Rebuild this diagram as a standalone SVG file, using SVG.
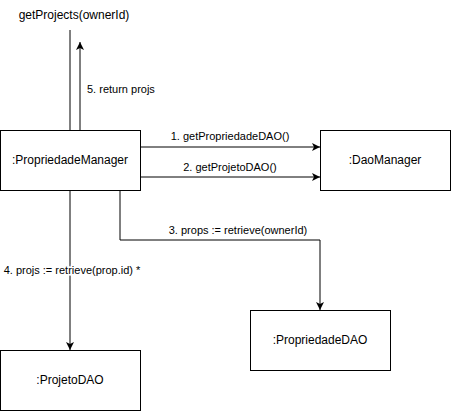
<svg xmlns="http://www.w3.org/2000/svg" width="461" height="411" viewBox="0 0 461 411">
<style>
.box{fill:#fff;stroke:#000;stroke-width:1}
.t{font-family:"Liberation Sans",Arial,sans-serif;font-size:12px;fill:#000;text-anchor:middle}
.l{font-family:"Liberation Sans",Arial,sans-serif;font-size:11px;fill:#000}
.c{fill:none;stroke:#000;stroke-width:1}
</style>
<defs>
<marker id="a" markerWidth="10" markerHeight="10" refX="8" refY="4" orient="auto" markerUnits="userSpaceOnUse">
<path d="M0,0 L8,4 L0,8 L2,4 Z" fill="#000"/>
</marker>
</defs>
<rect width="461" height="411" fill="#fff"/>
<text x="74" y="19" class="t">getProjects(ownerId)</text>
<g id="connectors">
<path class="c" d="M70,30 V130"/>
<path class="c" d="M80,130 V42" marker-end="url(#a)"/>
<path class="c" d="M140,147 H320" marker-end="url(#a)"/>
<path class="c" d="M140,177 H320" marker-end="url(#a)"/>
<path class="c" d="M120,190 V240 H320 V310" marker-end="url(#a)"/>
<path class="c" d="M70,190 V350" marker-end="url(#a)"/>
<text x="87" y="93" class="l">5. return projs</text>
<text x="230" y="140" class="l" text-anchor="middle">1. getPropriedadeDAO()</text>
<text x="230" y="171" class="l" text-anchor="middle">2. getProjetoDAO()</text>
<text x="238" y="234" class="l" text-anchor="middle">3. props := retrieve(ownerId)</text>
<text x="72" y="274" class="l" text-anchor="middle" style="paint-order:stroke" stroke="#fff" stroke-width="3">4. projs := retrieve(prop.id) *</text>
</g>
<g id="propriedadeManager">
<rect class="box" x="0.5" y="130.5" width="140" height="60"/>
<text x="70" y="164" class="t">:PropriedadeManager</text>
</g>
<g id="daoManager">
<rect class="box" x="320.5" y="130.5" width="130" height="60"/>
<text x="385" y="164" class="t">:DaoManager</text>
</g>
<g id="propriedadeDAO">
<rect class="box" x="250.5" y="310.5" width="140" height="60"/>
<text x="320" y="344" class="t">:PropriedadeDAO</text>
</g>
<g id="projetoDAO">
<rect class="box" x="0.5" y="350.5" width="140" height="60"/>
<text x="70" y="384" class="t">:ProjetoDAO</text>
</g>
</svg>
